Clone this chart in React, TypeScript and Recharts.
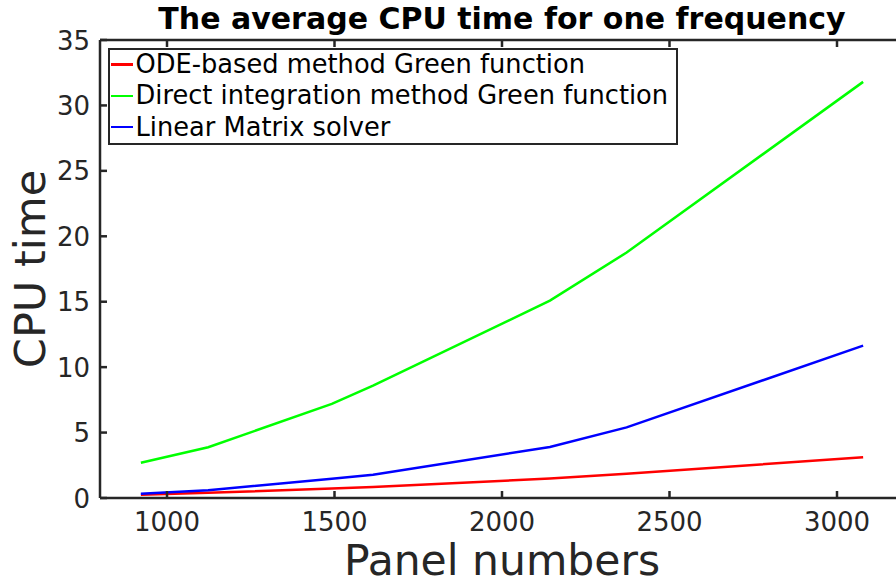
import { LineChart, Line, XAxis, YAxis, Legend } from 'recharts'

const panelNumbers = [922, 1123, 1492, 1615, 2143, 2372, 3078]
const odeTimes = [0.24, 0.4, 0.72, 0.85, 1.49, 1.85, 3.11]
const directTimes = [2.69, 3.88, 7.19, 8.59, 15.08, 18.76, 31.8]
const linearTimes = [0.33, 0.6, 1.47, 1.77, 3.9, 5.4, 11.64]
const seriesNames = [
  'ODE-based method Green function',
  'Direct integration method Green function',
  'Linear Matrix solver',
]
const xTicks = [1000, 1500, 2000, 2500, 3000]
const yTicks = [0, 5, 10, 15, 20, 25, 30, 35]

const FONT = "'DejaVu Sans', sans-serif"
const AXIS = '#262626'

const chartData = panelNumbers.map((p, i) => ({
  panels: p,
  ode: odeTimes[i],
  direct: directTimes[i],
  linear: linearTimes[i],
}))

const BottomTick = (props: any) => {
  const { x, y, payload } = props
  return (
    <g>
      <line x1={x} y1={y} x2={x} y2={y - 7} stroke={AXIS} strokeWidth={2.5} />
      <text x={x} y={y + 33} textAnchor="middle" fontSize={26} fill={AXIS} fontFamily={FONT}>
        {payload.value}
      </text>
    </g>
  )
}

const TopTick = (props: any) => {
  const { x, y } = props
  return <line x1={x} y1={y} x2={x} y2={y + 7} stroke={AXIS} strokeWidth={2.5} />
}

const LeftTick = (props: any) => {
  const { x, y, payload } = props
  return (
    <g>
      <line x1={x} y1={y} x2={x + 7} y2={y} stroke={AXIS} strokeWidth={2.5} />
      <text x={x - 10} y={y + 9.5} textAnchor="end" fontSize={26} fill={AXIS} fontFamily={FONT}>
        {payload.value}
      </text>
    </g>
  )
}

const renderLegend = (props: any) => {
  // keep the plotting order, not alphabetical
  const items = seriesNames
    .map((name) => props.payload.find((p: any) => p.value === name))
    .filter(Boolean)
  return (
    <div
      style={{
        position: 'relative',
        width: 570,
        height: 97,
        boxSizing: 'border-box',
        border: `2.5px solid ${AXIS}`,
        background: '#fff',
        fontFamily: FONT,
      }}
    >
      {items.map((entry: any, i: number) => (
        <div
          key={entry.value}
          style={{
            position: 'absolute',
            left: 0,
            top: -1 + i * 31.3,
            height: 31,
            display: 'flex',
            alignItems: 'center',
            whiteSpace: 'nowrap',
          }}
        >
          <span style={{ display: 'inline-block', width: 22, height: 2.5, marginLeft: 0.5, background: entry.color }} />
          <span style={{ marginLeft: 3, fontSize: 25.7, lineHeight: '31px', color: '#000' }}>{entry.value}</span>
        </div>
      ))}
    </div>
  )
}

export default function App() {
  return (
    <div style={{ position: 'absolute', left: 0, top: 0, width: 896, height: 586, overflow: 'hidden', background: '#fff' }}>
      <LineChart width={920} height={586} data={chartData} margin={{ top: 39, right: 16, left: 0, bottom: 0 }}>
        <XAxis
          dataKey="panels"
          type="number"
          domain={[800, 3200]}
          ticks={xTicks}
          interval={0}
          height={88}
          tickSize={0}
          tickMargin={0}
          tickLine={false}
          tick={<BottomTick />}
          axisLine={{ stroke: AXIS, strokeWidth: 2.5 }}
          label={{
            content: () => (
              <text x={502} y={575} textAnchor="middle" fontSize={42.5} fill={AXIS} fontFamily={FONT}>
                Panel numbers
              </text>
            ),
          }}
        />
        <XAxis
          xAxisId="top"
          orientation="top"
          dataKey="panels"
          type="number"
          domain={[800, 3200]}
          ticks={xTicks}
          interval={0}
          height={1}
          tickSize={0}
          tickMargin={0}
          tickLine={false}
          tick={<TopTick />}
          axisLine={{ stroke: AXIS, strokeWidth: 2.5 }}
          label={{
            content: () => (
              <text x={502} y={29} textAnchor="middle" fontSize={30} fontWeight="bold" fill="#000" fontFamily={FONT}>
                The average CPU time for one frequency
              </text>
            ),
          }}
        />
        <YAxis
          type="number"
          domain={[0, 35]}
          ticks={yTicks}
          interval={0}
          width={100}
          tickSize={0}
          tickMargin={0}
          tickLine={false}
          tick={<LeftTick />}
          axisLine={{ stroke: AXIS, strokeWidth: 2.5 }}
          label={{
            content: () => (
              <text
                x={45}
                y={269}
                transform="rotate(-90 45 269)"
                textAnchor="middle"
                fontSize={43}
                fill={AXIS}
                fontFamily={FONT}
              >
                CPU time
              </text>
            ),
          }}
        />
        <Legend
          layout="horizontal"
          verticalAlign="middle"
          align="center"
          wrapperStyle={{ left: 108, top: 48, width: 570, height: 97 }}
          content={renderLegend}
        />
        <Line
          type="linear"
          dataKey="ode"
          name={seriesNames[0]}
          stroke="#ff0000"
          strokeWidth={2.5}
          dot={false}
          isAnimationActive={false}
        />
        <Line
          type="linear"
          dataKey="direct"
          name={seriesNames[1]}
          stroke="#00ff00"
          strokeWidth={2.5}
          dot={false}
          isAnimationActive={false}
        />
        <Line
          type="linear"
          dataKey="linear"
          name={seriesNames[2]}
          stroke="#0000ff"
          strokeWidth={2.5}
          dot={false}
          isAnimationActive={false}
        />
      </LineChart>
    </div>
  )
}
